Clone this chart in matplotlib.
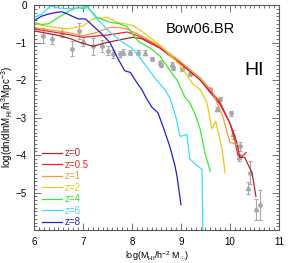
import matplotlib
matplotlib.use('Agg')
import matplotlib.pyplot as plt
from matplotlib.ticker import MultipleLocator

plt.rcParams['font.family'] = ['Liberation Sans', 'DejaVu Sans']
plt.rcParams['mathtext.fontset'] = 'custom'
plt.rcParams['mathtext.rm'] = 'Liberation Sans'
plt.rcParams['mathtext.it'] = 'Liberation Sans:italic'

# model HI mass functions, one per redshift
x_z0 = [6.0, 6.25, 6.53, 6.75, 6.94, 7.2, 7.49, 7.82, 8.02, 8.2, 8.57, 8.98, 9.39, 9.8,
        10.0, 10.14, 10.2, 10.3, 10.45, 10.53]
y_z0 = [-0.69, -0.75, -0.82, -0.9, -1.0, -1.1, -1.0, -0.91, -0.86, -0.9, -1.15, -1.55, -2.0, -2.65,
        -3.15, -3.66, -4.06, -4.06, -4.47, -5.1]

x_z05 = [6.0, 6.3, 6.67, 7.0, 7.35, 7.61, 7.9, 8.12, 8.57, 8.98, 9.39, 9.8, 10.0, 10.1,
         10.16, 10.25, 10.33]
y_z05 = [-0.64, -0.7, -0.78, -0.86, -0.82, -0.78, -0.72, -0.82, -1.12, -1.52, -1.95, -2.6, -3.15, -3.6,
         -4.0, -4.03, -3.93]

x_z1 = [6.0, 6.3, 6.67, 7.0, 7.28, 7.55, 7.75, 7.9, 8.16, 8.57, 8.98, 9.39, 9.65, 9.86,
        10.0, 10.14]
y_z1 = [-0.6, -0.66, -0.73, -0.82, -0.73, -0.6, -0.6, -0.64, -0.8, -1.1, -1.5, -1.95, -2.33, -3.0,
        -3.66, -3.72]

x_z2 = [6.0, 6.2, 6.45, 6.67, 6.85, 7.0, 7.2, 7.5, 7.69, 7.85, 8.02, 8.2, 8.4, 8.6,
        8.98, 9.24, 9.39, 9.53, 9.63, 9.71, 9.84, 9.9]
y_z2 = [-0.5, -0.55, -0.6, -0.64, -0.6, -0.56, -0.37, -0.33, -0.46, -0.5, -0.55, -0.7, -0.9, -1.1,
        -1.6, -2.1, -2.25, -2.6, -3.3, -3.1, -3.85, -4.47]

x_z4 = [6.0, 6.15, 6.3, 6.5, 6.73, 6.9, 7.0, 7.1, 7.28, 7.55, 7.75, 7.9, 8.12, 8.37,
        8.57, 8.75, 8.92, 9.08, 9.18, 9.3, 9.39, 9.49, 9.6]
y_z4 = [-0.46, -0.52, -0.5, -0.33, -0.15, -0.06, -0.1, -0.06, -0.33, -0.46, -0.5, -0.58, -0.96, -1.15,
        -1.36, -1.7, -2.0, -2.46, -2.6, -2.95, -3.3, -3.95, -4.43]

x_z6 = [6.0, 6.15, 6.33, 6.5, 6.7, 6.9, 7.08, 7.18, 7.28, 7.42, 7.55, 7.7, 7.82, 8.0,
        8.16, 8.33, 8.47, 8.67, 8.78, 8.9, 8.98, 9.05, 9.12, 9.18, 9.3, 9.43, 9.45]
y_z6 = [-0.33, -0.25, -0.03, -0.08, -0.1, -0.08, -0.03, -0.2, -0.37, -0.55, -0.73, -0.88, -1.0, -1.15,
        -1.4, -1.7, -1.95, -2.25, -2.5, -3.0, -3.5, -3.48, -3.45, -4.1, -4.25, -4.38, -6.3]

x_z8 = [6.0, 6.15, 6.3, 6.45, 6.57, 6.7, 6.9, 7.05, 7.2, 7.35, 7.55, 7.71, 7.85, 7.97,
        8.1, 8.2, 8.3, 8.41, 8.53, 8.65, 8.78, 8.88, 8.92, 9.0]
y_z8 = [-0.42, -0.3, -0.24, -0.2, -0.18, -0.25, -0.37, -0.37, -0.55, -0.73, -1.0, -1.42, -1.75, -1.8,
        -2.07, -2.25, -2.5, -2.73, -2.87, -3.3, -3.8, -4.3, -4.57, -5.32]

labels = ['z=0', 'z=0.5', 'z=1', 'z=2', 'z=4', 'z=6', 'z=8']
colors = ['#b02424', '#e82828', '#ff9440', '#f0c814', '#30ec30', '#3cdcff', '#2020d8']

# observations (gray points with error bars)
obs_c_x = [6.18, 6.37, 6.78, 6.92, 7.2, 7.39, 7.51, 7.61, 7.76, 7.96, 8.12, 8.41, 8.6, 8.84,
           9.02, 9.18, 9.59, 9.8, 10.02, 10.2, 10.41, 10.61]
obs_c_y = [-0.82, -0.9, -1.17, -0.69, -1.1, -1.09, -1.22, -1.3, -1.3, -1.27, -1.27, -1.44, -1.6, -1.67,
           -1.71, -1.84, -2.25, -2.5, -2.89, -3.77, -4.47, -5.32]
obs_c_err = [0.2, 0.13, 0.2, 0.22, 0.22, 0.15, 0.12, 0.1, 0.08, 0.06, 0.06, 0.05, 0.05, 0.05,
             0.05, 0.05, 0.05, 0.05, 0.07, 0.11, 0.31, 0.4]

obs_t_x = [6.57, 7.0, 7.82, 8.27, 8.57, 8.82, 9.73, 10.06, 10.19, 10.37, 10.53]
obs_t_y = [-0.73, -0.96, -1.26, -1.27, -1.53, -1.58, -2.78, -3.45, -4.06, -4.87, -5.45]
obs_t_err = [0.13, 0.12, 0.08, 0.06, 0.05, 0.05, 0.05, 0.11, 0.1, 0.16, 0.29]

fig = plt.figure(figsize=(2.93, 2.63), dpi=100)
ax = fig.add_axes([0.116, 0.125, 0.836, 0.856])

gray = '#a8a8a8'
ax.errorbar(obs_c_x, obs_c_y, yerr=obs_c_err, fmt='o', ms=2.5, color=gray, ecolor=gray,
            elinewidth=0.8, capsize=1.5, capthick=0.8, zorder=1)
ax.errorbar(obs_t_x, obs_t_y, yerr=obs_t_err, fmt='^', ms=3.0, color=gray, ecolor=gray,
            elinewidth=0.8, capsize=1.5, capthick=0.8, zorder=1)

series = [(x_z0, y_z0), (x_z05, y_z05), (x_z1, y_z1), (x_z2, y_z2),
          (x_z4, y_z4), (x_z6, y_z6), (x_z8, y_z8)]
for (xs, ys), lab, c in zip(series, labels, colors):
    ax.plot(xs, ys, color=c, lw=0.9, label=lab, zorder=2)

ax.set_xlim(6, 11)
ax.set_ylim(-6, 0)
ax.xaxis.set_major_locator(MultipleLocator(1))
ax.xaxis.set_minor_locator(MultipleLocator(0.1))
ax.yaxis.set_major_locator(MultipleLocator(1))
ax.yaxis.set_minor_locator(MultipleLocator(0.1))
ax.set_yticks([0, -1, -2, -3, -4, -5])
ax.tick_params(which='both', direction='in', top=True, right=True, labelsize=7, colors='0.35',
               labelcolor='black', width=0.6)
ax.tick_params(which='major', length=5, pad=5)
ax.tick_params(which='minor', length=2.5)
for s in ax.spines.values():
    s.set_color('0.35')
    s.set_linewidth(0.8)

ax.set_xlabel(r'log(M$_{\rm HI}$/h$^{-2}$ M$_{\odot}$)', fontsize=6.5, va='center')
ax.xaxis.set_label_coords(0.5, -0.115)
ax.set_ylabel(r'log(dn/dlnM$_{\rm HI}$/h$^3$Mpc$^{-3}$)', fontsize=7, labelpad=1)

ax.text(0.68, 0.895, 'Bow06.BR', transform=ax.transAxes, fontsize=10.5, ha='center', va='center')
ax.text(0.9, 0.71, 'HI', transform=ax.transAxes, fontsize=14, ha='center', va='center')

leg = ax.legend(loc='lower left', bbox_to_anchor=(0.01, -0.012), frameon=False, fontsize=7,
                handlelength=2.0, handletextpad=0.25, labelspacing=0.15, borderpad=0.1,
                labelcolor='linecolor')

fig.savefig('out.png', dpi=100)
